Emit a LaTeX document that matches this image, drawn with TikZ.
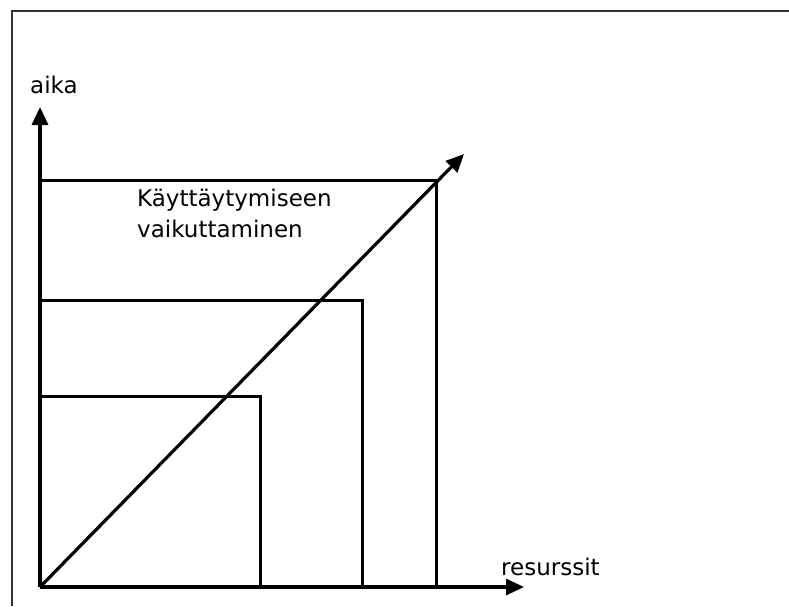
\documentclass[tikz,border=0pt]{standalone}
\usepackage{fontspec}
\setmainfont{DejaVu Sans}
\usetikzlibrary{arrows.meta}
\begin{document}
\begin{tikzpicture}[x=1pt,y=-1pt,
  frame/.style={line width=2pt, draw=black!80},
  axis/.style={line width=3.2pt, -{Triangle[length=18pt,width=16pt]}},
  box/.style={line width=3pt},
  lbl/.style={inner sep=0pt, anchor=base west, font=\fontsize{23}{31}\selectfont, align=left}]
\useasboundingbox (0,0) rectangle (789,606);
\draw[frame] (12,606) -- (12,11) -- (789,11);
\coordinate (O) at (40,587);
\coordinate (ytip) at (40,107);
\coordinate (xtip) at (524,587);
\coordinate (dtip) at (464,154);
\draw[box] (O) |- (436,180) -- (436,587);
\draw[box] (O) |- (362,300) -- (362,587);
\draw[box] (O) |- (260,396) -- (260,587);
\draw[axis] (O) -- (ytip);
\draw[axis] (O) -- (xtip);
\draw[axis] (O) -- (dtip);
\node[lbl] (aika) at (30,93) {aika};
\node[lbl] (res) at (501,575) {resurssit};
\node[lbl] (kay) at (137,237) {Käyttäytymiseen\\vaikuttaminen};
\end{tikzpicture}
\end{document}
